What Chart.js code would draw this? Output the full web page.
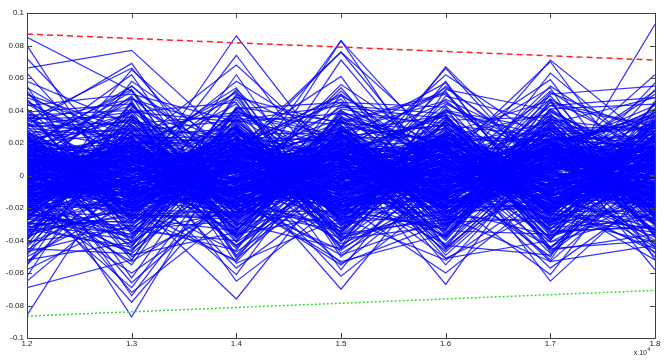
<!DOCTYPE html>
<html>
<head>
<meta charset="utf-8">
<script src="https://cdn.jsdelivr.net/npm/chart.js@4"></script>
<style>
  html, body { margin: 0; padding: 0; background: #fff; }
  #chart { display: block; }
</style>
</head>
<body>
<canvas id="chart" width="664" height="364"></canvas>
<script>
// x positions (plotted in units of 1e4 on the axis)
const xValues = [12000, 13000, 14000, 15000, 16000, 17000, 18000];

// y tick labels, MATLAB style
const yTicks = [-0.1, -0.08, -0.06, -0.04, -0.02, 0, 0.02, 0.04, 0.06, 0.08, 0.1];

// upper (red dashed) and lower (green dotted) bounds at x = 1.2 and 1.8
const upperBound = [0.087, 0.071];
const lowerBound = [-0.0865, -0.0707];

const traces = [
  [85, 52, -12, 30, -8, 14, 22], [80, -18, 41, -6, 25, -33, 10], [72, 5, -27, 12, 38, -4, -15],
  [66, 77, 18, -40, 6, 21, -2], [63, -8, 86, 3, -19, 32, 48], [58, 31, -5, 83, 12, -21, 7],
  [55, -42, 9, -17, 67, 2, -30], [50, 14, -33, 25, -4, 71, 19], [47, -23, 24, -9, 36, -14, 93],
  [44, 9, -3, 19, -26, 40, -11], [41, -36, 15, 76, -2, -8, 27], [38, 20, -44, 7, 13, 29, -37],
  [36, -11, 30, -22, 41, -35, 4], [34, 66, -7, 14, -30, 8, 33], [32, 2, 52, -28, 9, -17, -6],
  [30, -27, 11, 40, -15, 23, 16], [28, 17, -21, -3, 28, -40, 45], [27, -5, 36, 16, -45, 12, -24],
  [25, 43, -14, -34, 20, 5, 9], [24, -16, 3, 22, 57, -26, -41], [22, 8, -38, 1, -11, 47, 13],
  [21, -31, 19, 45, 4, -9, -19], [20, 26, -9, -13, -37, 18, 36], [19, -2, 27, 9, 16, -48, 2],
  [18, 35, -17, -46, 0, 26, -13], [17, -13, 6, 31, -22, 1, 28], [16, 11, 44, -19, 33, -13, -33],
  [15, -45, -1, 11, -7, 37, 6], [14, 23, -29, 27, 46, -3, -8], [13, -7, 14, -8, -28, 15, 40],
  [12, 39, 33, 38, 10, -30, -17], [11, -20, -11, -24, -3, 7, 24], [10, 4, 22, 5, 24, -19, -45],
  [9, -34, -40, 19, -40, 31, 11], [9, 15, 7, -37, 14, -6, -1], [8, -9, -24, 2, -12, 43, 30],
  [7, 28, 39, 24, 31, -24, -26], [6, -25, -6, -14, -20, 10, 15], [5, 47, 17, 50, 5, -38, -10],
  [5, -14, -47, -5, -34, 20, 37], [4, 6, 12, 35, 19, 3, -29], [3, -39, 29, -27, -9, -44, 5],
  [2, 19, -16, 13, 39, 24, 20], [1, -3, 4, -42, -16, -11, -38], [0, 31, -34, 28, 1, 35, 12],
  [-1, -18, 21, -11, 27, -2, -21], [-2, 12, -2, 17, -43, 16, 43], [-3, -28, 47, -31, 8, -28, -4],
  [-4, 37, -19, 6, -25, 9, 26], [-5, -6, 8, 33, 51, -16, -14], [-6, 21, -30, -20, -6, 52, 8],
  [-7, -43, 16, 10, 18, -35, -31], [-8, 3, -10, -39, -31, 13, 17], [-9, 27, 34, 20, 11, -7, -44],
  [-10, -12, -26, -1, -18, 27, 3], [-11, 41, 2, 42, 35, -21, 34], [-12, -24, 26, -16, -1, 4, -18],
  [-13, 10, -43, 8, -39, 39, 10], [-14, -37, 10, -29, 22, -12, -7], [-15, 16, -13, 26, -10, 19, 38],
  [-16, -1, 37, -7, 15, -41, -23], [-17, 33, -23, 15, -27, 6, 14], [-18, -21, 5, -35, 43, -26, -35],
  [-19, 7, -37, 36, -4, 30, 0], [-20, -33, 20, -12, 26, -4, 21], [-21, 25, -8, 3, -46, 14, -12],
  [-22, -10, 31, -44, 7, -33, 32], [-23, 44, -28, 21, -14, 45, -27], [-24, -4, 13, -4, 30, -15, 7],
  [-25, 18, -45, 29, -23, 0, -40], [-26, -29, 1, -23, 2, 22, 25], [-27, 1, 25, 12, 37, -29, -3],
  [-28, 36, -15, -32, -8, 11, 41], [-29, -15, 40, 4, -35, -10, -16], [-30, 13, -32, 39, 17, 33, 9],
  [-31, -46, 9, -18, -13, -23, -33], [-32, 22, -4, 18, 45, 8, 18], [-33, -8, 28, -38, -21, -37, -9],
  [-35, 30, -20, 7, 3, 25, 29], [-37, -19, 18, -26, 23, -1, -42], [-39, 5, -36, 23, -30, 41, 1],
  [-41, -32, 3, -10, 12, -18, 23], [-43, 40, -12, 34, -44, 3, -20], [-46, -2, 23, -45, 34, -31, 12],
  [-49, 24, -41, 0, -5, 17, -34], [-52, -41, 0, 30, 21, -8, 39], [-55, 9, 32, -21, -33, 28, -6],
  [-58, -26, -25, 11, 6, -45, 16], [-62, 34, 14, -33, 40, 12, -25], [-65, -11, -18, 25, -16, -20, 6],
  [-69, -52, 42, -2, -38, 36, -11], [-86, 14, -31, 16, 29, -5, 31],
  [12, -87, 20, -15, 6, -22, 18], [-6, -78, -3, 28, -12, 15, -9], [20, -74, 11, -8, 24, -3, -20],
  [3, -72, -22, 14, -6, 29, 5], [-14, -69, 16, -25, 19, -11, 27], [8, -66, -9, 2, -31, 7, -14],
  [25, -63, 28, -19, 1, -27, 10], [-18, -60, -15, 33, 15, 4, -28], [31, 69, -20, 6, -9, 18, -2],
  [-9, 65, 9, -23, 27, -14, 20], [16, 62, -31, 20, -18, 2, -7], [-27, 58, 14, -6, 8, -25, 33],
  [5, 55, -2, 26, -24, 11, -17], [22, -10, 74, -12, 3, -19, 14], [-12, 18, 68, 9, -21, 25, -5],
  [9, -27, 62, -30, 14, -6, 22], [-20, 6, 58, 18, -7, 30, -26], [14, -14, -76, 5, 21, -12, 8],
  [-5, 24, -65, -16, -2, 20, -15], [26, -3, -61, 27, 10, -29, 3], [-16, 11, -57, -9, 32, 6, 18],
  [7, -19, -53, 13, -15, 17, -30], [-23, 15, 4, -70, 9, -18, 12], [11, -6, -17, 83, -12, 6, -8],
  [-8, 26, 12, 76, 18, -23, 24], [18, -9, -25, 71, -5, 14, -13], [-13, 3, 19, 61, -28, -7, 6],
  [4, -22, -8, 56, 13, 26, -21], [15, 20, 6, -62, -11, 3, 29], [-25, -13, 30, -58, 22, -16, -4],
  [10, 7, -14, -55, -3, 12, -19], [-3, -25, 23, -8, 66, -5, 15], [21, 12, -11, 4, 62, 19, -24],
  [-17, -4, 7, -21, 58, -28, 11], [6, 29, -26, 15, 54, 8, -3], [-10, -17, 2, 11, -67, 23, 17],
  [13, 8, 20, -17, -60, -9, -12], [-22, -1, -12, 22, -55, 14, 26], [2, 16, 26, -3, -51, -20, -8],
  [19, -12, -7, -14, 9, 70, -16], [-11, 21, 15, 24, -19, 63, 9], [8, -8, -21, -1, 16, 59, -25],
  [-26, 13, 10, 17, -8, 55, 13], [14, -20, -4, -26, 20, -65, -6], [-7, 2, 22, 10, -14, -61, 21],
  [23, -16, -16, -12, 4, -57, -11], [-19, 9, 8, 29, -25, -53, 4], [1, -23, 17, -20, 11, 5, 62],
  [17, 14, -9, 8, -17, -12, 57], [-14, -5, 29, -28, 25, 21, -58], [10, 19, -23, 12, -1, -15, -52],
  [-4, -11, 5, 20, -22, 9, 52],
  [6, -4, 10, -7, 3, 12, -5], [-3, 9, -6, 14, -10, -2, 8], [12, -15, 2, -3, 17, -8, -12],
  [-9, 5, -14, 6, -4, 18, 3], [1, 17, 8, -19, 11, -6, 15], [15, -7, -10, 10, -16, 4, -2],
  [-12, 2, 19, 1, 7, -15, 11], [4, -20, -1, -11, -8, 9, -17], [19, 11, -18, 16, 0, -10, 6],
  [-6, -13, 12, -2, 21, 1, -9], [8, 6, -5, 23, -13, 16, 20], [-16, -2, 22, -16, 5, -4, -6],
  [2, 14, -12, 4, -19, 7, 2], [11, -9, 6, -22, 14, -18, 13], [-1, 20, -20, 9, -1, 21, -14],
  [17, -1, 3, 0, -11, -1, 4], [-8, 8, 15, -13, 18, 10, -20], [5, -18, -7, 18, -6, -13, 9],
  [-14, 12, 9, -5, 9, 5, -1], [9, -6, -15, 12, -20, 14, 17], [0, 3, 1, -9, 13, -7, -10],
  [13, -14, 17, 3, -3, 2, 7], [-5, 18, -3, -17, 6, -20, -4], [7, 0, -11, 21, -9, 8, 12],
  [-11, -10, 13, -1, 16, -11, -8], [3, 7, -19, 7, -14, 17, 0], [16, -16, 5, -10, 2, -3, 16],
  [-2, 10, -8, 13, -7, 11, -13], [10, -3, 21, -6, 10, -16, 5], [-13, 13, -2, 2, -17, 3, -18],
  [6, -8, 11, 19, 4, 13, 10], [-7, 4, -16, -8, 15, -9, -3], [14, -12, 7, 11, -5, 6, 14],
  [-4, 15, -9, -14, 8, -14, -7], [2, -5, 14, 5, -12, 19, 1], [9, 1, -4, -4, 1, -2, -11],
  [-15, 16, 6, 15, 19, 9, 18], [18, -11, -13, -18, -15, -17, -1], [-10, 6, 18, 8, 7, 0, 8],
  [4, -17, 0, -12, -2, 15, -16], [12, 10, -17, 17, 12, -12, 2], [-6, -7, 10, -7, -18, 7, 11],
  [0, 13, -6, 1, 0, -5, -5], [8, -2, 16, -15, 14, 20, 9], [-3, 19, -14, 10, -9, -8, -15],
  [15, -10, 4, -9, 5, 4, 13], [-12, 4, -10, 20, -12, 12, -9], [5, -14, 20, -3, 17, -19, 4],
  [11, 8, -1, 6, -4, 2, -12], [-9, -4, 8, -20, 10, -10, 15], [1, 11, -18, 14, -16, 16, -2],
  [-2, -1, 2, -2, 3, -1, 6], [7, 21, 11, 12, -8, 11, -6], [-17, -19, -9, -6, 20, -6, 19],
  [13, 3, 13, 9, -2, 8, -19], [-5, -12, -2, -16, -13, 18, 0],
  [28, -30, 24, -33, 29, -27, 31], [-31, 27, -29, 30, -26, 32, -28], [34, 22, -33, 17, -38, 25, -22],
  [-24, -34, 31, -27, 33, -30, 26], [30, 33, 20, -35, 19, -34, -32], [-35, -24, -27, 35, -32, 21, 34],
  [23, 29, -36, -24, 34, 36, -30], [-29, -36, 26, 26, -29, -26, 23], [37, -27, 35, -29, -24, 29, -36],
  [-20, 35, -24, 32, 28, -39, 30], [26, -22, 38, 22, -36, 23, -25], [-38, 31, -21, -30, 25, -21, 37],
  [33, -33, -28, 38, 32, -32, -27], [-26, 24, 29, -36, -27, 34, 27], [21, 38, -39, 27, 37, -24, -33],
  [-32, -21, 34, -25, -30, 27, 29], [39, -35, -22, -34, 24, 38, -24], [-22, 32, 37, 31, -34, -36, 32],
  [27, -26, -34, 24, 31, 24, -37], [-36, 28, 25, -38, -25, -29, 24], [31, 26, -26, 29, -31, 33, -29],
  [-27, -31, 32, -23, 36, -25, 35], [24, 34, -35, 34, -23, 28, -23], [-34, -25, 27, -31, 27, -31, 28],
  [36, 30, -23, 37, -37, 22, -34], [-23, -38, 36, -28, 30, -37, 33], [29, 23, -30, 25, -28, 35, -26],
  [-30, -28, 23, -37, 35, -23, 25], [35, 36, -38, 28, -33, 31, -31], [-25, -23, 30, -26, 26, -28, 36],
  [41, -12, 27, -38, 15, -22, 44], [-44, 19, -33, 6, 40, 28, -17], [14, 48, -6, -21, -33, 45, 30],
  [-18, -47, 42, 33, 11, -41, -9], [46, 8, -43, -3, 47, 16, -35], [-40, 42, 15, 47, -20, -5, 21],
  [25, -50, -18, 14, 37, -47, 12], [-11, 16, 51, -48, -10, 34, -43], [52, -29, 10, 27, -49, 7, 39],
  [-48, 45, -50, 13, 22, -16, -27], [7, -41, 24, -44, 53, 40, 6], [-37, 11, -9, 52, -2, -50, 46],
  [43, 50, 33, -12, -42, 19, -48], [-2, -24, -52, 36, 18, -33, 17], [31, 39, 45, -50, 5, 49, -20],
  [-53, -5, 17, 9, -47, 9, 50], [19, 53, -41, 41, 30, -44, -11], [-45, -48, 6, -19, -14, 51, 25],
  [54, 17, 48, 32, 50, -15, -47], [-16, -53, -14, -53, -36, 37, -7], [39, 44, -25, 44, 9, -52, 41],
  [-50, -17, 53, -8, 44, 13, -50], [2, 49, -49, 21, -51, -40, 34], [-33, -44, 39, -41, 26, 46, -38],
  [48, 24, -10, 54, -19, -19, 53], [-21, -38, 49, -36, 49, 32, -21], [11, 52, -37, 7, -43, -49, 18],
  [-42, -15, 18, 49, 16, 54, -45], [37, 40, -54, -26, -52, -8, 22], [-8, -55, 34, 43, 38, -46, -36],
  [50, 27, -29, -45, -9, 43, 48], [-29, -40, 50, 18, 52, -37, -23], [17, 55, 3, -54, -29, 50, 55],
  [-47, -31, -46, 40, 7, -53, -43], [33, 47, 28, -9, 55, 4, 37], [-12, -49, -35, 50, -45, 47, -52],
  [45, 13, 54, -40, 24, -39, 10], [-39, 46, -51, 1, -38, 41, 44], [22, -52, 41, 45, 42, -45, -40],
  [-55, 37, -13, -49, -26, 29, 30],
  [3, -8, 5, -12, 9, -3, 7], [-7, 12, -3, 8, -5, 14, -9], [10, -2, -9, 2, -14, 6, 12],
  [-4, 6, 13, -6, 7, -12, -3], [14, -10, -4, 15, 0, 8, -14], [-10, 1, 7, -10, 12, -7, 4],
  [6, 15, -14, 4, -8, 11, 16], [-13, -6, 4, 11, 15, -4, -7], [9, 9, 11, -15, -3, -15, 1],
  [0, -16, -7, 7, 6, 3, 10], [16, 4, 16, -1, -10, 17, -10], [-15, -11, -12, 13, 18, -10, 13],
  [4, 18, 3, -8, -6, 1, -16], [-8, -3, -17, 19, 11, 15, 6], [12, 7, 9, -4, -17, -5, -4],
  [-1, -14, -3, 3, 4, 10, 18], [18, 12, -15, 10, 13, -18, -8], [-11, -5, 18, -18, -1, 6, 3],
  [5, 16, -6, 6, -15, -9, 14], [-6, -9, 6, -9, 20, 13, -11], [20, 2, -10, 16, 2, -1, 8],
  [-18, 13, 14, -3, -12, 20, -15], [7, -7, -13, 12, 10, -14, 2], [-3, 10, 1, -14, -7, 4, 17],
  [11, -17, 12, 1, 16, -11, -6], [-14, 5, -8, 18, -4, 16, 11], [2, 20, 20, -11, 8, -6, -13],
  [-9, -12, -16, 9, -18, 9, 5], [15, 0, 8, -7, 5, -17, -17], [-5, 14, -11, 14, -9, 12, 9],
  [8, -4, 15, -2, 19, 0, -2], [-16, 8, -5, 5, -13, -8, 15], [1, -19, 10, -16, 1, 18, -10],
  [13, 11, -18, 20, 14, -13, 7], [-12, -1, 2, -12, -2, 7, -19], [4, 17, -9, 8, 17, -20, 12],
  [-2, -13, 17, -5, -11, 5, -5], [17, 5, -2, 0, 9, 14, 20], [-7, -18, 9, 17, -16, -2, -12],
  [10, 9, -14, -13, 3, 10, 4], [-17, 3, 19, 4, 12, -16, 16], [6, -8, -7, -17, -8, 2, -8],
  [-10, 19, 5, 11, 21, -9, 1], [14, -15, 12, -9, -6, 19, 14], [-1, 7, -19, 2, 6, -4, -14],
  [9, -5, 3, 22, -14, 12, 10], [-13, 12, -12, -8, 15, -19, -1], [3, -20, 21, 13, -3, 3, 19],
  [19, 3, -4, -19, 11, 16, -9], [-8, -11, 8, 6, -20, -6, 6], [21, 14, -21, -3, 22, 21, -20],
  [-20, -17, 14, -21, -19, -21, 21], [-22, 22, -20, 23, 24, -22, -22], [22, -22, 23, -23, -23, 23, 23],
  [-19, 23, 24, 21, -21, 24, -23], [24, -24, -22, -22, 21, -23, 22], [-24, 25, 19, 25, -24, 19, -24],
  [23, -25, -24, 19, 20, -24, 24], [-21, 21, 22, -24, 23, 22, -21], [25, -21, -23, 24, -22, -20, 25]
];

const FONT = { family: '"Liberation Sans", Arial, Helvetica, sans-serif', size: 8 };

const toPoints = (row) => row.map((v, i) => ({ x: xValues[i], y: v / 1000 }));
const xEnds = [xValues[0], xValues[xValues.length - 1]];

const datasets = [
  {
    data: xEnds.map((x, i) => ({ x, y: upperBound[i] })),
    borderColor: '#ff2020',
    borderWidth: 1.5,
    borderDash: [6, 4],
    order: 0
  },
  {
    data: xEnds.map((x, i) => ({ x, y: lowerBound[i] })),
    borderColor: '#33dd33',
    borderWidth: 1.5,
    borderDash: [2, 2],
    order: 0
  },
  ...traces.map(row => ({
    data: toPoints(row),
    borderColor: 'rgba(0, 0, 255, 0.8)',
    borderWidth: 1.25,
    order: 1
  }))
];

// MATLAB-like box with inward ticks on all four sides, plus the "x 10^4" exponent
const framePlugin = {
  id: 'frame',
  afterDraw(chart) {
    const { ctx, chartArea: a, scales } = chart;
    ctx.save();
    ctx.strokeStyle = '#404040';
    ctx.lineWidth = 1;
    ctx.beginPath();
    ctx.rect(Math.round(a.left) + 0.5, Math.round(a.top) + 0.5,
             Math.round(a.right - a.left), Math.round(a.bottom - a.top));
    ctx.stroke();

    const tl = 5;
    ctx.beginPath();
    xValues.forEach(v => {
      const px = Math.round(scales.x.getPixelForValue(v)) + 0.5;
      ctx.moveTo(px, a.bottom); ctx.lineTo(px, a.bottom - tl);
      ctx.moveTo(px, a.top); ctx.lineTo(px, a.top + tl);
    });
    yTicks.forEach(v => {
      const py = Math.round(scales.y.getPixelForValue(v)) + 0.5;
      ctx.moveTo(a.left, py); ctx.lineTo(a.left + tl, py);
      ctx.moveTo(a.right, py); ctx.lineTo(a.right - tl, py);
    });
    ctx.stroke();

    ctx.fillStyle = '#222';
    ctx.font = `7px ${FONT.family}`;
    ctx.textAlign = 'right';
    ctx.textBaseline = 'alphabetic';
    const baseX = a.right - 8, baseY = a.bottom + 17;
    ctx.fillText('x 10', baseX, baseY);
    ctx.font = `5px ${FONT.family}`;
    ctx.textAlign = 'left';
    ctx.fillText('4', baseX + 0.5, baseY - 4);
    ctx.restore();
  }
};

new Chart(document.getElementById('chart'), {
  type: 'line',
  data: { datasets },
  plugins: [framePlugin],
  options: {
    responsive: false,
    devicePixelRatio: 1,
    animation: false,
    events: [],
    layout: { padding: { top: 13, right: 9, left: 0, bottom: 0 } },
    elements: {
      point: { radius: 0 },
      line: { tension: 0, fill: false, borderCapStyle: 'butt' }
    },
    plugins: {
      legend: { display: false },
      tooltip: { enabled: false }
    },
    scales: {
      x: {
        type: 'linear',
        min: 12000,
        max: 18000,
        afterFit: (s) => { s.height = 26; },
        afterBuildTicks: (s) => { s.ticks = xValues.map(value => ({ value })); },
        grid: { display: false, drawTicks: false },
        border: { display: false },
        ticks: {
          color: '#222',
          font: FONT,
          padding: 1,
          maxRotation: 0,
          callback: (v) => (v / 10000).toFixed(1)
        }
      },
      y: {
        min: -0.1,
        max: 0.1,
        afterFit: (s) => { s.width = 27; },
        afterBuildTicks: (s) => { s.ticks = yTicks.map(value => ({ value })); },
        grid: { display: false, drawTicks: false },
        border: { display: false },
        ticks: {
          color: '#222',
          font: FONT,
          padding: 3,
          callback: (v) => String(Number(v.toFixed(2)))
        }
      }
    }
  }
});
</script>
</body>
</html>
